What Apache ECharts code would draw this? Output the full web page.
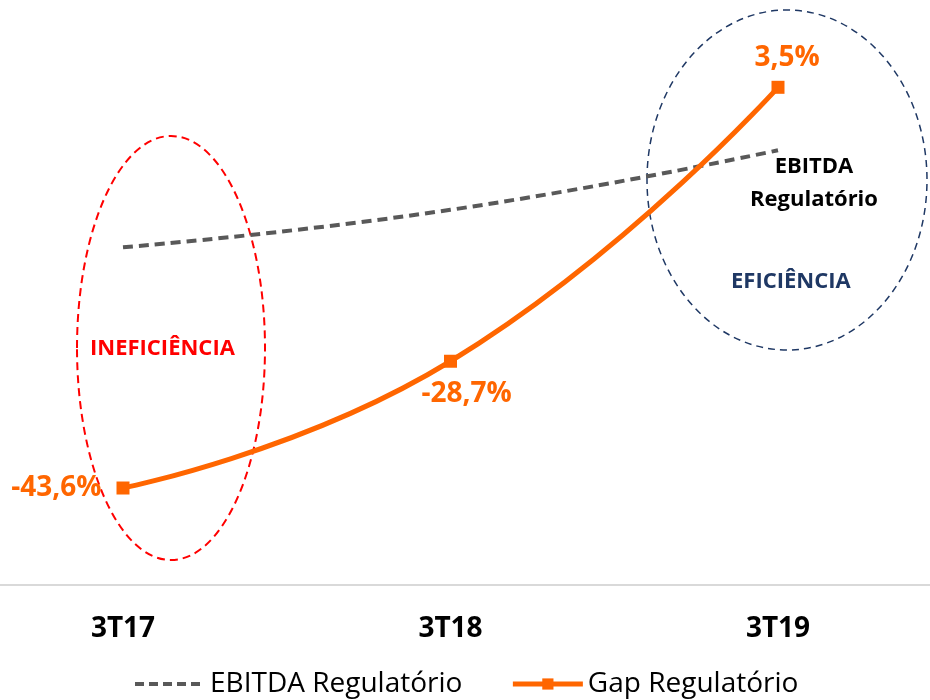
<!DOCTYPE html>
<html>
<head>
<meta charset="utf-8">
<script src="https://cdn.jsdelivr.net/npm/echarts@6/dist/echarts.min.js"></script>
<style>
  html, body { margin: 0; padding: 0; background: #fff; }
  #chart { width: 930px; height: 700px; }
</style>
</head>
<body>
<div id="chart"></div>
<script>
// trimestres
const categories = ['3T17', '3T18', '3T19']
// valores em %
const ebitdaRegulatorio = [-15.3, -10.9, -3.9]
const gapRegulatorio = [-43.6, -28.7, 3.5]

const font = "'Open Sans', 'Noto Sans', sans-serif"
const orange = '#ff6600'
const gray = '#595959'

// formato brasileiro: virgula decimal
function pct(v) {
    return v.toFixed(1).replace('.', ',') + '%'
}

let myChart = echarts.init(document.getElementById('chart'))
myChart.setOption({
    animation: false,
    grid: { left: 123, right: 152, top: 32, bottom: 115 },
    legend: {
        left: 133,
        top: 670,
        padding: 0,
        itemWidth: 70,
        itemHeight: 14,
        itemGap: 48,
        textStyle: { fontFamily: font, fontSize: 28, color: '#000' },
        data: [
            { name: 'EBITDA Regulatório', itemStyle: { opacity: 0 }, lineStyle: { width: 4, type: [9, 5] } },
            { name: 'Gap Regulatório', lineStyle: { width: 5 } }
        ]
    },
    xAxis: {
        type: 'category',
        boundaryGap: false,
        data: categories,
        axisLine: { show: false },
        axisTick: { show: false },
        axisLabel: {
            margin: 30,
            fontFamily: font,
            fontSize: 28,
            fontWeight: 'bold',
            color: '#000'
        }
    },
    yAxis: {
        type: 'value',
        min: -55,
        max: 10,
        show: false,
        splitLine: { show: false }
    },
    graphic: [
        // linha do eixo, de ponta a ponta
        {
            type: 'line',
            shape: { x1: 0, y1: 585, x2: 930, y2: 585 },
            style: { stroke: '#d9d9d9', lineWidth: 2 },
            z: 1
        },
        {
            type: 'ellipse',
            shape: { cx: 171, cy: 348, rx: 94, ry: 212 },
            style: { fill: 'none', stroke: '#ff0000', lineWidth: 2, lineDash: [8, 5] },
            z: 1
        },
        {
            type: 'ellipse',
            shape: { cx: 787, cy: 180, rx: 140, ry: 170 },
            style: { fill: 'none', stroke: '#1f3864', lineWidth: 1.5, lineDash: [7, 5] },
            z: 1
        },
        {
            type: 'text',
            left: 90, top: 338,
            style: { text: 'INEFICIÊNCIA', font: 'bold 22px ' + font, fill: '#ff0000' },
            z: 5
        },
        {
            type: 'text',
            left: 731, top: 271,
            style: { text: 'EFICIÊNCIA', font: 'bold 22px ' + font, fill: '#1f3864' },
            z: 5
        },
        {
            type: 'text',
            x: 814, y: 150,
            style: {
                text: 'EBITDA\nRegulatório',
                font: 'bold 22px ' + font,
                fill: '#000',
                align: 'center',
                lineHeight: 33
            },
            z: 5
        }
    ],
    series: [
        {
            name: 'EBITDA Regulatório',
            type: 'line',
            smooth: true,
            data: ebitdaRegulatorio,
            symbol: 'none',
            lineStyle: { color: gray, width: 4, type: [10, 6] },
            itemStyle: { color: gray },
            z: 3
        },
        {
            name: 'Gap Regulatório',
            type: 'line',
            smooth: true,
            symbol: 'rect',
            symbolSize: 13,
            lineStyle: { color: orange, width: 5 },
            itemStyle: { color: orange },
            label: {
                show: true,
                fontFamily: font,
                fontSize: 28,
                fontWeight: 'bold',
                color: orange,
                formatter: p => pct(p.value)
            },
            data: gapRegulatorio.map((v, i) => ({
                value: v,
                label: i === 0 ? { position: 'left', distance: 15 }
                     : i === 1 ? { position: 'bottom', distance: 12, offset: [16, 0] }
                     : { position: 'top', distance: 9, offset: [9, 0] }
            })),
            z: 4
        }
    ]
})
</script>
</body>
</html>
